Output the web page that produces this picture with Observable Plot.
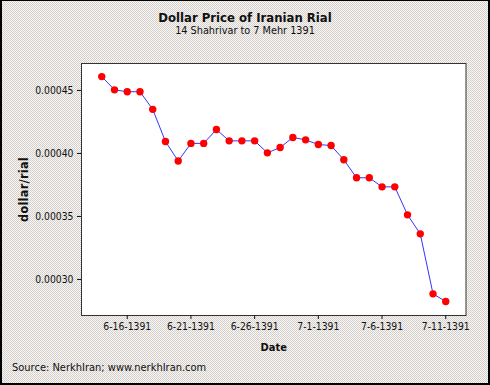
<!DOCTYPE html>
<html><head><meta charset="utf-8">
<script src="https://cdn.jsdelivr.net/npm/d3@7"></script>
<script src="https://cdn.jsdelivr.net/npm/@observablehq/plot@0.6"></script>
<style>
body{margin:0;background:#fff;}
#wrap{position:relative;width:490px;height:385px;overflow:hidden;
  background-color:#f8f7f6;
  background-image:url("data:image/svg+xml;utf8,<svg xmlns='http://www.w3.org/2000/svg' width='2' height='2' shape-rendering='crispEdges'><rect x='0' y='0' width='1' height='1' fill='%23d2ccd0'/><rect x='1' y='1' width='1' height='1' fill='%23d6d4c8'/></svg>");
  background-size:2px 2px;
  font-family:"DejaVu Sans Condensed","DejaVu Sans",sans-serif;color:#111;}
#chart{position:absolute;left:0;top:0;}
.t{position:absolute;white-space:nowrap;line-height:1;}
#title{left:0;width:490px;text-align:center;top:11px;font-weight:bold;font-size:13px;}
#subtitle{left:0;width:490px;text-align:center;top:25.5px;font-size:10.8px;}
#caption{left:12px;top:362px;font-size:11px;}
#border{position:absolute;left:0;top:0;width:490px;height:385px;box-sizing:border-box;
  border-left:2px solid #000;border-top:1px solid #000;border-right:2px solid #000;border-bottom:2px solid #000;pointer-events:none;}
g[aria-label="x-axis label"] text{font-weight:bold;font-size:11px;}
g[aria-label="y-axis label"] text{font-weight:bold;font-size:12.5px;letter-spacing:0.3px;}
</style></head>
<body>
<div id="wrap">
  <div id="chart"></div>
  <div class="t" id="title">Dollar Price of Iranian Rial</div>
  <div class="t" id="subtitle">14 Shahrivar to 7 Mehr 1391</div>
  <div class="t" id="caption">Source: NerkhIran; www.nerkhIran.com</div>
  <div id="border"></div>
</div>
<script>
const dates = [
  "6-14-1391","6-15-1391","6-16-1391","6-17-1391","6-18-1391","6-19-1391","6-20-1391",
  "6-21-1391","6-22-1391","6-23-1391","6-24-1391","6-25-1391","6-26-1391","6-27-1391",
  "6-28-1391","6-29-1391","6-30-1391","7-1-1391","7-2-1391","7-3-1391","7-4-1391",
  "7-5-1391","7-6-1391","7-7-1391","7-8-1391","7-9-1391","7-10-1391","7-11-1391"
];
const values = [
  0.000461,0.0004505,0.000449,0.000449,0.000435,0.0004095,0.000394,
  0.000408,0.000408,0.000419,0.00041,0.00041,0.00041,0.0004005,
  0.0004047,0.0004127,0.0004108,0.0004071,0.0004063,0.000395,0.0003807,
  0.0003807,0.0003735,0.0003735,0.0003513,0.0003362,0.0002886,0.0002825
];
const xTicks = ["6-16-1391","6-21-1391","6-26-1391","7-1-1391","7-6-1391","7-11-1391"];
const yTicks = [0.00030,0.00035,0.00040,0.00045];

const data = dates.map((d, i) => ({date: d, value: values[i]}));

const chart = Plot.plot({
  width: 490, height: 385,
  marginTop: 63, marginRight: 24.5, marginBottom: 70, marginLeft: 81,
  style: {background: "transparent", fontFamily: "'DejaVu Sans Condensed','DejaVu Sans',sans-serif", fontSize: "10.3px", color: "#111", overflow: "visible"},
  x: {type: "point", domain: dates, padding: 1.59, round: false},
  y: {domain: [0.0002714, 0.0004714]},
  marks: [
    Plot.frame({fill: "#fff", stroke: "#333"}),
    Plot.axisY({ticks: yTicks, tickFormat: d3.format(".5f"), tickSize: 4, tickPadding: 4,
      label: "dollar/rial", labelAnchor: "center", labelArrow: "none", labelOffset: 62}),
    Plot.axisX({ticks: xTicks, tickSize: 4, tickPadding: 3,
      label: "Date", labelAnchor: "center", labelArrow: "none", labelOffset: 35}),
    Plot.line(data, {x: "date", y: "value", stroke: "#3535ff", strokeWidth: 1}),
    Plot.dot(data, {x: "date", y: "value", r: 3.7, fill: "#ff0000", stroke: "none"})
  ]
});
document.getElementById("chart").appendChild(chart);
</script>
</body></html>
